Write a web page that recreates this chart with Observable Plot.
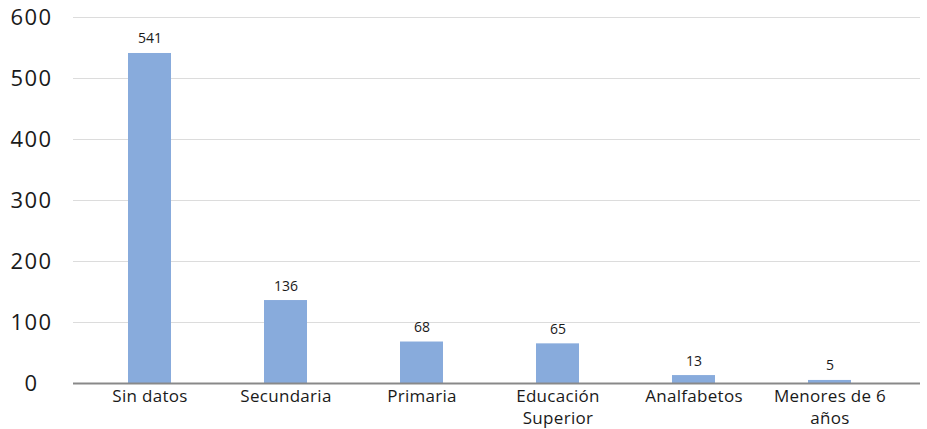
<!DOCTYPE html>
<html>
<head>
<meta charset="utf-8">
<script src="https://cdn.jsdelivr.net/npm/d3@7"></script>
<script src="https://cdn.jsdelivr.net/npm/@observablehq/plot@0.6"></script>
<style>
  html, body { margin: 0; padding: 0; background: #ffffff; }
  svg { display: block; }
  /* wider numerals on the value axis */
  g[aria-label="y-axis tick label"] text { letter-spacing: 1.5px; }
  g[aria-label="x-axis tick label"] text { letter-spacing: 0.3px; }
</style>
</head>
<body>
<div id="chart"></div>
<script>
// Education level of the group, counts per category
const categories = ["Sin datos", "Secundaria", "Primaria", "Educación Superior", "Analfabetos", "Menores de 6 años"];
const counts = [541, 136, 68, 65, 13, 5];
const tickLabels = ["Sin datos", "Secundaria", "Primaria", "Educación\nSuperior", "Analfabetos", "Menores de 6\naños"];
const yTicks = [0, 100, 200, 300, 400, 500, 600];

const data = categories.map((c, i) => ({category: c, count: counts[i]}));
const labelOf = new Map(categories.map((c, i) => [c, tickLabels[i]]));

const FONT = "'Open Sans', 'DejaVu Sans', sans-serif";

const chart = Plot.plot({
  width: 927,
  height: 429,
  marginTop: 17,
  marginBottom: 46,
  marginLeft: 73,
  marginRight: 7,
  style: {fontFamily: FONT, color: "#1a1a1a", background: "#ffffff"},
  x: {domain: categories, range: [79, 899], paddingInner: 0.685, paddingOuter: 0.3425, label: null},
  y: {domain: [0, 600], label: null},
  marks: [
    Plot.gridY(yTicks, {stroke: "#dcdcdc", strokeOpacity: 1, strokeWidth: 1}),
    Plot.barY(data, {x: "category", y: "count", fill: "#88abdc"}),
    Plot.ruleY([0], {stroke: "#898989", strokeWidth: 2}),
    Plot.text(data, {
      x: "category", y: "count", text: d => String(d.count),
      lineAnchor: "bottom", dy: -10, fontSize: 14, fill: "#1a1a1a"
    }),
    Plot.axisY({
      ticks: yTicks, tickSize: 0, tickPadding: 42, textAnchor: "middle",
      fontSize: 22, fill: "#1a1a1a"
    }),
    Plot.axisX({
      tickSize: 0, tickPadding: 3, fontSize: 17, lineHeight: 1.3,
      tickFormat: d => labelOf.get(d), fill: "#1a1a1a"
    })
  ]
});

document.getElementById("chart").append(chart);
</script>
</body>
</html>
